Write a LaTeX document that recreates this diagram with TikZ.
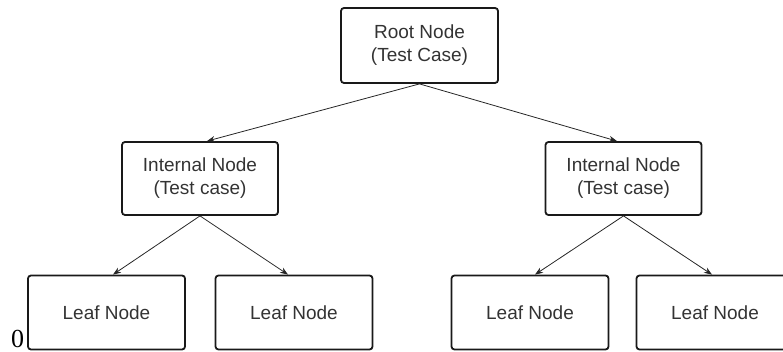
\documentclass[tikz,border=0pt]{standalone}
\usepackage{fontspec}
\setmainfont{Liberation Sans}
\newfontfamily\serifnum{Liberation Serif}
\usetikzlibrary{arrows.meta}
\begin{document}
\begin{tikzpicture}[x=1pt,y=-1pt,
  box/.style={draw=black!90, line width=1.8pt, rounded corners=3pt, align=center,
    font=\fontsize{19}{23}\selectfont, text=black!80, inner sep=0pt},
  rootbox/.style={box, minimum width=157pt, minimum height=75pt},
  intbox/.style={box, minimum width=156pt, minimum height=73pt},
  leafbox/.style={box, minimum width=157pt, minimum height=74pt},
  link/.style={draw=black!85, line width=0.8pt, -{Stealth[length=8pt,width=6pt]}}]
\useasboundingbox (0,0) rectangle (783,352);
\node[rootbox] (root) at (419.5,45.5) {Root Node\\(Test Case)};
\node[intbox] (intL) at (200,178.5) {Internal Node\\(Test case)};
\node[intbox] (intR) at (623.5,178.5) {Internal Node\\(Test case)};
\node[leafbox] (l1) at (106.5,312.5) {Leaf Node};
\node[leafbox] (l2) at (294,312.5) {Leaf Node};
\node[leafbox] (l3) at (530,312.5) {Leaf Node};
\node[leafbox] (l4) at (715,312.5) {Leaf Node};
\node[anchor=base west, inner sep=0pt, font=\serifnum\fontsize{26}{26}\selectfont] (zero) at (11,347) {0};
\draw[link] (root.south) -- ([xshift=7pt]intL.north);
\draw[link] (root.south) -- ([xshift=-6.5pt]intR.north);
\draw[link] (intL.south) -- ([xshift=6.5pt]l1.north);
\draw[link] (intL.south) -- ([xshift=-6pt]l2.north);
\draw[link] (intR.south) -- ([xshift=5pt]l3.north);
\draw[link] (intR.south) -- ([xshift=-3pt]l4.north);
\end{tikzpicture}
\end{document}
